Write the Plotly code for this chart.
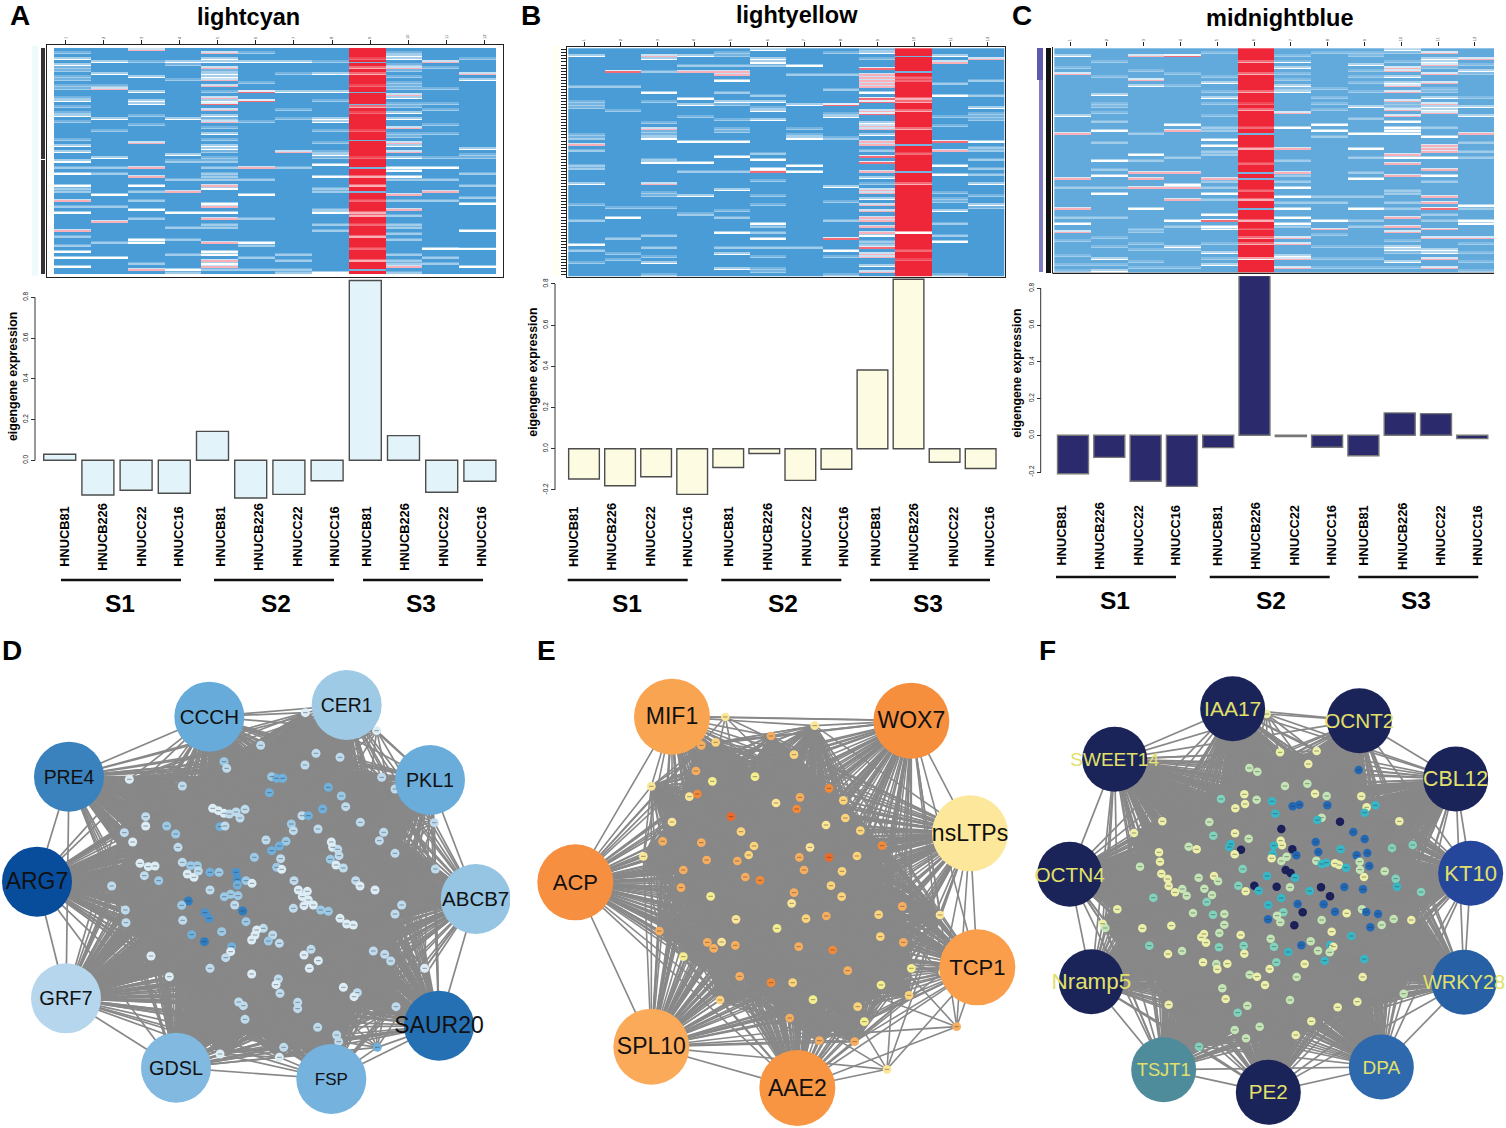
import plotly.graph_objects as go

W, H = 1506, 1128
FONT = "Liberation Sans"

# ---------- eigengene bar values ----------
samples = ["HNUCB81", "HNUCB226", "HNUCC22", "HNUCC16"] * 3
stages = ["S1", "S2", "S3"]
A_bars = [0.03, -0.17, -0.147, -0.162, 0.142, -0.185, -0.167, -0.10, 0.882, 0.121, -0.157, -0.103]
B_bars = [-0.147, -0.18, -0.136, -0.222, -0.091, -0.023, -0.154, -0.10, 0.382, 0.823, -0.066, -0.096]
C_bars = [-0.209, -0.12, -0.25, -0.278, -0.067, 0.869, -0.007, -0.065, -0.111, 0.122, 0.118, -0.018]

# ---------- heatmap rows (row numbers per column) ----------
N_ROWS = 75
A_hot = 9; B_hot = 10; C_hot = 6
A_pale = [[1,6,7,9,10,12,13,16,19,21,24,30,39,46,47,52,62,65],[12,27,39,41,52,64],[4,22,25,47,50,56,71],[5,10,37,43,59,63,68,74],
          [7,14,23,26,30,34,36,37,39,41,42,43,58,59,73],[1,11,24,43,56,65,69,73],[8,20,23,39,68,70,73,74],[4,17,27,31,34,36,46,47,53,58,60],
          [],[1,5,7,9,11,12,13,18,19,28,29,43,50,55,58,59,61,63,68,70,71,74],[6,13,18,20,25,28,36,43,50,69,71],[3,35,36,41,45,49,66]]
A_white = [[3,5,17,22,32,34,37,41,45,54,67,69,72],[4,8,23,36,48,69],[9,14,17,18,45,53,63,64],[4,23,35,54,73],
           [3,4,8,9,17,22,28,32,33,46,51,54,67,68,71],[4,48,64],[4,14],[8,14,23,24,35,38,42,54,74],
           [],[2,3,16,21,23,32,36,39,40,42],[39,66],[10,33,51,60,66,72]]
A_pink = [[50,60],[13,57],[0,31,39,42,73],[47],[1,6,10,12,16,20,24,45,52,56,64,70,72],[39],[34],[],
          [6,8,19,42,45,54,55,62,70],[6,15,26,31,34,48,53,72],[4,47],[8]]
A_rose = [[],[],[],[],[18],[14,17],[],[],[3,12,21,27,36,50,58,66],[],[],[]]
A_cold = [4,14,18,30,39,47,73]

B_pale = [[12,17,18,19,28,29,33,38,39,51,56,66,70],[12,20,52,62,67,69],[7,17,24,27,28,36,47,48,52,61,65,68,74],[5,22,40,54],
          [1,2,5,14,18,23,26,27,40,53,55,65],[5,15,19,34,43,48,51,58,60,65,68,72,73],[8,26,28,65],[1,8,13,21,29,50,56,68,74],
          [0,3,33,44,63,64],[],[11,22,25,47,49,50,57,61,74],[10,15,21,22,23,32,33,36,39,41,48,52]]
B_white = [[2,44,64],[55],[3,14,29,37,70],[2,16,18,30,37,48],[10,17,30,35,46,60,67,72],[0,3,4,17,20,23,36,39,57,62],[5,18,29,38,40],[22,45,66],
           [1,14,24,28,42,49,61,71],[60],[2,15,38,41,53,63],[19,30,44,51]]
B_pink = [[31],[],[2,26,44],[7],[7,8],[],[],[],[8,9,10,11,12,20,25,26,30,31,40,46,47,51,53,55,56,58,60,67,68,73],[16,17,20,26,44],[4,33],[3]]
B_rose = [[],[7],[],[],[],[40],[],[18,62],[6,16,17,21,35,37,65],[9,10,34,66,69],[30],[]]
B_cold = [2,7,31,40]

C_pale = [[6,46,56,64,69,72,74],[4,9,18,19,21,24,31,40,46,56,63,66,72],[7,28,37,60,61,65,67,71,73],[8,12,36,59,67,73],
          [1,9,14,18,22,26,27,34,35,44,46,50,65,70],[],[2,4,8,10,13,37,42,44,51,59],[1,13,16,18,20,29,49,51,62,66,70,73],
          [1,2,7,9,11,14,23,36,41,49,57,59,66,70,73],[1,4,18,19,47,48,51,53,64,68,73],[6,13,14,26,44,55,57],[5,8,16,31,34,36,53,65,68,71,74]]
C_white = [[2,22,58],[15,27,37,42,48,70,74],[12,35,53],[25,45,57,66],[11,16,30,32,48,55,59,60,68,72],[70],[4,6,12,14,26,46,49,53,56,58,69],[25,27,57],
           [5,19,28,33,43,53],[0,9,11,24,26,27,28,36,66,67,71],[3,4,16,19,20,29,36,42,67,68],[7,19,22,52,57,58]]
C_pink = [[8,28,43,53,61],[],[2,10,41,43,46],[27,41,46,50],[43],[4,8,14,20,33,50,57,63,65],[21,33,41,63,65,70,73],[60],
          [],[6,7,12,14,17,20,22,35,38,42,56,59,61],[1,5,8,11,18,21,32,33,34,40,49,51,60,63,70,73],[3,28,63]]
C_rose = [[],[],[],[2],[57],[18,26,38,47,60],[],[],[],[],[53],[]]
C_cold = [28,41,43,53]

# ---------- network D ----------
D_names = ["CCCH","CER1","PKL1","ABCB7","SAUR20","FSP","GDSL","GRF7","ARG7","PRE4"]
D_hub_x = [628,1040,1290,1427,1317,994,528,198,111,207]
D_hub_y = [230,195,420,777,1157,1317,1283,1075,725,410]
D_hub_col = ["#66abd9","#9ecae6","#6aaddb","#95c5e3","#2470b3","#75b2de","#82b9e0","#b5d6ec","#084c9c","#3a82bd"]
D_name_size = [20.5,19.4,19.7,20.5,23,17,19.8,20,23,19.4]
D_small = [(916,218,0),(1130,272,0),(782,316,1),(672,365,2),(680,385,1),(948,340,1),(1020,352,1),(915,375,1),(388,418,0),(547,438,1),
 (815,410,2),(830,415,3),(848,415,3),(808,458,3),(985,442,3),(1024,468,2),(1037,500,1),(1145,412,1),(1185,447,1),(1303,548,1),
 (638,505,0),(655,512,0),(672,520,0),(688,522,1),(708,516,1),(735,508,1),(720,534,1),(660,560,3),(675,558,1),(500,558,2),
 (527,582,2),(534,622,1),(437,530,1),(437,558,0),(373,578,1),(398,606,0),(968,507,3),(906,527,1),(925,527,3),(874,552,2),
 (880,572,1),(954,567,1),(1081,547,1),(1151,577,1),(1138,602,1),(858,604,2),(838,618,3),(798,600,1),(815,632,3),(994,606,0),
 (998,622,0),(1013,628,1),(1017,647,1),(991,658,2),(1008,675,0),(1030,684,1),(1185,640,1),(1306,687,1),(842,656,1),(830,682,2),
 (845,688,0),(763,652,2),(547,667,1),(420,670,0),(445,680,0),(465,678,0),(433,707,1),(476,722,2),(335,738,1),(572,677,2),
 (592,677,2),(562,702,0),(582,712,0),(595,693,1),(630,697,3),(657,697,2),(708,697,4),(712,718,4),(738,722,2),(756,730,0),
 (712,735,3),(630,750,1),(673,770,2),(692,763,2),(714,767,2),(882,722,1),(895,750,0),(922,754,0),(907,770,0),(925,780,0),
 (940,795,0),(912,797,0),(880,805,1),(962,810,2),(985,814,2),(1067,722,1),(1080,738,0),(1125,750,0),(1205,795,1),(1185,822,1),
 (1020,835,0),(1040,852,0),(1060,855,0),(565,783,5),(545,796,2),(548,841,1),(615,818,4),(627,835,4),(704,795,1),(728,813,5),
 (738,845,2),(376,810,1),(378,848,1),(665,875,2),(575,884,3),(613,905,5),(790,865,1),(770,870,0),(765,885,0),(755,900,0),
 (818,885,1),(805,903,2),(838,910,1),(695,920,3),(692,935,0),(677,953,1),(453,948,0),(630,985,1),(933,928,1),(912,945,0),
 (955,962,0),(928,985,0),(1120,933,1),(1154,943,1),(1172,963,1),(1274,985,0),(508,1010,0),(755,1002,0),(835,1017,1),(828,1034,0),
 (840,1060,1),(1030,1042,0),(1072,1058,1),(1062,1070,0),(893,1087,1),(893,1106,1),(716,1086,1),(730,1097,1),(1188,1100,1),(735,1138,1),
 (953,1162,1),(1010,1185,1),(1016,1205,1),(1132,1222,3),(851,1222,1),(838,1252,0),(660,1242,0)]
D_levels = ["#dcedf6","#bfdcee","#9ccae6","#6fb0dc","#4a93cf","#2f7dbf"]

# ---------- network E ----------
E_names = ["MIF1","WOX7","nsLTPs","TCP1","AAE2","SPL10","ACP"]
E_hub_x = [426,1144,1320,1342,802,364,136]
E_hub_y = [230,242,580,982,1344,1220,727]
E_hub_col = ["#f9a450","#f58f3e","#fde79a","#fb9e4c","#f79543","#fbaa5a","#f68f40"]
E_name_size = [23,23,23,22,23,23,22]
E_small = [(586,231,1),(854,257,1),(723,288,3),(514,316,3),(557,307,2),(792,344,2),(498,393,3),(547,424,0),(675,410,0),(364,439,1),
 (478,470,1),(502,462,4),(897,445,4),(810,472,3),(940,481,2),(738,489,1),(800,507,4),(603,530,5),(946,534,2),(888,555,1),
 (426,546,1),(991,572,2),(633,575,2),(398,604,3),(514,608,3),(1056,617,4),(672,618,2),(656,645,2),(840,622,1),(340,649,1),
 (530,660,3),(622,663,3),(808,652,3),(897,652,5),(981,648,2),(460,690,3),(822,690,3),(936,694,2),(646,711,3),(690,721,4),
 (903,737,2),(453,743,3),(792,758,3),(785,790,1),(542,769,0),(935,770,2),(1117,799,3),(1230,825,1),(1046,824,2),(618,838,1),
 (828,836,2),(889,828,3),(741,865,0),(388,873,3),(1051,890,2),(1120,907,3),(532,907,3),(551,925,3),(575,906,1),(616,916,3),
 (806,920,3),(908,930,4),(460,950,0),(953,992,3),(1144,985,0),(1238,997,1),(629,1009,3),(723,1028,4),(788,1028,2),(1053,1035,0),
 (1137,1066,2),(849,1079,0),(570,1080,2),(983,1100,2),(779,1134,3),(1003,1145,0),(1280,1160,3),(868,1202,3),(974,1205,3),(1071,1288,1)]
E_levels = ["#f5ef8e","#fbe596","#fbd47c","#f8ae5f","#f28a3a","#ee6a2a"]

# ---------- network F ----------
F_names = ["IAA17","OCNT2","CBL12","KT10","WRKY28","DPA","PE2","TSJT1","Nramp5","OCTN4","SWEET14"]
F_hub_x = [638,1018,1307,1352,1332,1084,745,431,214,149,284]
F_hub_y = [206,242,417,700,1027,1281,1357,1289,1025,703,358]
F_hub_col = ["#1b2458","#1b2458","#1b2458","#24479b","#2860a6","#2e68ad","#1b2458","#4e8c9c","#1b2458","#1b2458","#1b2458"]
F_name_size = [21,20.7,21.3,22,20,19,20.6,18.3,22.4,20.8,19]
F_small = [(740,222,0),(780,337,0),(890,333,0),(865,372,0),(688,384,1),(712,395,1),(1016,390,4),(795,438,1),(862,431,1),(603,477,2),
 (673,463,0),(675,492,0),(646,505,0),(710,479,1),(756,484,3),(885,461,0),(920,468,1),(1024,469,0),(818,499,4),(838,494,4),
 (922,496,4),(1066,496,3),(1040,502,0),(1034,518,3),(766,521,3),(905,533,1),(892,540,3),(960,545,5),(427,544,0),(568,546,1),
 (1138,544,0),(784,567,5),(1000,576,4),(342,579,0),(580,587,2),(645,580,0),(686,596,1),(1034,597,4),(1178,615,2),(506,620,1),
 (530,628,0),(632,612,3),(628,621,3),(782,602,0),(786,616,0),(762,617,3),(887,606,4),(962,628,3),(1116,624,2),(663,629,5),
 (817,628,5),(895,636,4),(417,637,0),(758,642,3),(755,655,0),(644,643,0),(829,646,4),(800,650,1),(784,663,1),(1010,646,4),
 (1042,639,4),(1019,665,1),(889,662,1),(919,668,3),(905,672,3),(945,670,0),(957,675,0),(420,665,0),(978,683,3),(1048,678,4),
 (1020,689,1),(360,680,1),(668,687,2),(797,690,5),(812,699,5),(1094,694,1),(424,701,0),(582,708,0),(536,713,1),(594,724,1),
 (443,717,0),(741,708,3),(825,713,3),(1032,711,0),(1127,716,2),(1131,740,3),(446,738,0),(655,737,2),(703,737,5),(770,740,5),
 (716,752,3),(677,754,0),(810,742,1),(903,742,5),(973,741,4),(1029,748,4),(869,753,3),(487,747,1),(465,757,0),(553,746,1),
 (500,767,1),(576,765,1),(1203,756,2),(930,769,5),(400,773,2),(784,774,3),(560,786,2),(833,792,4),(911,793,4),(745,795,3),
 (292,808,0),(848,817,5),(945,815,4),(980,820,0),(1026,808,1),(1039,816,4),(1074,822,4),(519,819,1),(579,824,2),(613,822,1),
 (790,817,2),(771,827,1),(744,838,4),(781,847,1),(905,840,1),(1121,837,1),(1174,840,0),(248,851,0),(256,864,1),(367,865,0),
 (454,857,0),(613,854,1),(823,856,5),(1085,855,1),(1051,862,4),(935,875,0),(598,879,1),(662,885,0),(552,882,0),(544,892,0),
 (558,908,0),(752,896,1),(994,888,3),(872,904,1),(844,916,4),(762,920,2),(597,922,2),(671,917,2),(931,916,3),(940,920,0),
 (388,917,2),(486,933,1),(444,942,0),(805,936,3),(894,932,1),(929,937,1),(673,941,0),(1033,957,3),(914,962,3),(769,967,2),
 (549,967,0),(622,971,0),(589,972,1),(592,988,0),(854,972,0),(749,987,0),(689,1004,1),(711,1010,0),(830,1011,1),(1028,1011,0),
 (735,1035,0),(607,1045,1),(1151,1061,1),(617,1077,0),(810,1080,1),(1012,1085,0),(446,1094,0),(682,1097,1),(953,1102,0),(653,1118,2),
 (874,1144,0),(719,1160,1),(644,1170,1),(827,1185,0),(678,1195,1),(537,1220,2)]
F_levels = ["#edf0a8","#c4e5b5","#80d3bd","#36b8c8","#2268b4","#1a1f5c"]

fig = go.Figure()
layout = dict(width=W, height=H, margin=dict(l=0, r=0, t=0, b=0), paper_bgcolor="white",
              plot_bgcolor="rgba(0,0,0,0)", showlegend=False)
shapes, annots = [], []
ax_n = [0]


def xd(a, b):
    return [a / W, b / W]


def yd(a, b):
    return [1 - b / H, 1 - a / H]


def px(x):
    return x / W


def py(y):
    return 1 - y / H


def new_axes():
    ax_n[0] += 1
    n = ax_n[0]
    s = "" if n == 1 else str(n)
    return f"xaxis{s}", f"yaxis{s}", f"x{s}", f"y{s}"


def text(t, x, y, size, bold=True, angle=0, xanchor="center", yanchor="middle", color="black"):
    annots.append(dict(text=f"<b>{t}</b>" if bold else t, x=px(x), y=py(y), xref="paper", yref="paper", showarrow=False,
                       font=dict(family=FONT, size=size, color=color), textangle=angle, xanchor=xanchor, yanchor=yanchor))


def rect(x0, y0, x1, y1, color):
    shapes.append(dict(type="rect", xref="paper", yref="paper", x0=px(x0), x1=px(x1), y0=py(y0), y1=py(y1),
                       fillcolor=color, line=dict(width=0), layer="below"))


def pline(x0, y0, x1, y1, color="#111111", width=2.4):
    shapes.append(dict(type="line", xref="paper", yref="paper", x0=px(x0), x1=px(x1), y0=py(y0), y1=py(y1),
                       line=dict(color=color, width=width)))


SCALE = [[0, "#4a9cd6"], [0.5, "#ffffff"], [0.7, "#f9b0b8"], [1, "#ee1c2e"]]
FINE = 2


def heatmap(pale, white, pink, rose, cold, hot, base, frame, cells, ticks, full_frame, row_tick):
    fx0, fy0, fx1, fy1 = frame
    cx0, cy0, cx1, cy1 = cells
    t0, tstep = ticks
    rows_n = N_ROWS * FINE
    col_base = [0.98 if c == hot - 1 else base for c in range(12)]
    z = [list(col_base) for _ in range(rows_n)]
    for lev, src in ((0.24, pale), (0.5, white), (0.7, pink), (0.84, rose)):
        for c, rows in enumerate(src):
            for r in rows:
                z[FINE * r + 1][c] = lev
                if z[FINE * r][c] == col_base[c]:
                    z[FINE * r][c] = (col_base[c] + lev) / 2
    for r in cold:
        z[FINE * r + 1][hot - 1] = 0.12
    cw = (cx1 - cx0) / 12
    rh = (cy1 - cy0) / rows_n
    xa, ya, xr, yr = new_axes()
    layout[xa] = dict(domain=xd(fx0, fx1), range=[(fx0 - cx0) / cw + 0.5, (fx1 - cx0) / cw + 0.5], anchor=yr, side="top",
                      tickvals=[(t0 + tstep * i - cx0) / cw + 0.5 for i in range(12)], ticktext=[str(i + 1) for i in range(12)],
                      ticks="outside", ticklen=4, tickwidth=0.8, tickcolor="#222", tickangle=-90,
                      tickfont=dict(size=4, family=FONT, color="#444"), showgrid=False, zeroline=False,
                      showline=full_frame, mirror=full_frame, linecolor="#222", linewidth=1.3)
    layout[ya] = dict(domain=yd(fy0, fy1), range=[(fy1 - cy0) / rh - 0.5, (fy0 - cy0) / rh - 0.5], anchor=xr,
                      tickvals=[FINE * i + 0.5 for i in range(N_ROWS)], showticklabels=False, ticks="outside", ticklen=row_tick[0],
                      tickwidth=row_tick[1], tickcolor=row_tick[2], showgrid=False, zeroline=False,
                      showline=True, mirror=full_frame, linecolor="#222", linewidth=1.3)
    fig.add_trace(go.Heatmap(z=z, x=list(range(1, 13)), y=list(range(rows_n)), colorscale=SCALE, zmin=0, zmax=1,
                             showscale=False, xaxis=xr, yaxis=yr, hoverinfo="skip"))
    if not full_frame:
        pline(fx0, fy1, fx1, fy1, "#222", 1.3)


def bars(vals, fill, edge, x_first, x_step, bw, zero_y, unit, axis_x, ticks):
    y_top, y_bot = 276, 510
    left, right = x_first - x_step, x_first + 11.5 * x_step
    xa, ya, xr, yr = new_axes()
    layout[xa] = dict(domain=xd(left, right), range=[0, 12.5], visible=False, anchor=yr)
    layout[ya] = dict(domain=yd(y_top, y_bot), range=[(zero_y - y_bot) / unit, (zero_y - y_top) / unit], anchor="free",
                      position=px(axis_x), tickvals=ticks, ticktext=[f"{t:.1f}" for t in ticks], ticks="outside", ticklen=4,
                      tickwidth=1, tickcolor="#333", tickangle=-90, tickfont=dict(size=6.5, family=FONT, color="#111"),
                      showgrid=False, zeroline=False, showline=False)
    shapes.append(dict(type="line", xref="paper", yref=yr, x0=px(axis_x), x1=px(axis_x), y0=min(ticks), y1=max(ticks),
                       line=dict(color="#333", width=1)))
    fig.add_trace(go.Bar(x=list(range(1, 13)), y=vals, width=bw / x_step, marker=dict(color=fill, line=dict(color=edge, width=1.4)),
                         xaxis=xr, yaxis=yr, hovertext=samples, hoverinfo="text+y"))


def labels(xs, mid, line_y, spans, s_xs, s_y, ytitle):
    for x, s in zip(xs, samples):
        text(s, x, mid, 12.8, angle=-90)
    for (a, b), sx, st in zip(spans, s_xs, stages):
        pline(a, line_y, b, line_y)
        text(st, sx, s_y, 24.5)
    text("eigengene expression", ytitle[0], ytitle[1], 12.3, angle=-90)


def network(names, hx, hy, hcol, name_size, small, levels, box, size, hub_size, font_col, core, ring, edge_w):
    bx0, by0, bx1, by1 = box
    sx = [s[0] for s in small]
    sy = [s[1] for s in small]
    xa, ya, xr, yr = new_axes()
    layout[xa] = dict(domain=xd(bx0, bx1), range=[0, (bx1 - bx0) * 3], visible=False, anchor=yr)
    layout[ya] = dict(domain=yd(by0, by1), range=[(by1 - by0) * 3, 0], visible=False, anchor=xr)
    ex, ey = [], []
    n = len(names)
    for i in range(n):
        for step in ring:
            j = (i + step) % n
            ex += [hx[i], hx[j], None]
            ey += [hy[i], hy[j], None]
        for a, b in zip(sx, sy):
            ex += [hx[i], a, None]
            ey += [hy[i], b, None]
    cx, cy, R = core
    inner = [(a, b) for a, b in zip(sx, sy) if (a - cx) ** 2 + (b - cy) ** 2 < R ** 2]
    for i, p in enumerate(inner):
        for q in inner[i + 1:]:
            ex += [p[0], q[0], None]
            ey += [p[1], q[1], None]
    fig.add_trace(go.Scatter(x=ex, y=ey, mode="lines", line=dict(color="#888888", width=edge_w), xaxis=xr, yaxis=yr, hoverinfo="skip"))
    fig.add_trace(go.Scatter(x=sx, y=sy, mode="markers", xaxis=xr, yaxis=yr, hoverinfo="skip",
                             marker=dict(size=size, color=[levels[s[2]] for s in small], line=dict(width=0))))
    fig.add_trace(go.Scatter(x=sx, y=sy, mode="markers", xaxis=xr, yaxis=yr, hoverinfo="skip",
                             marker=dict(size=3.2, symbol="line-ew", color="#333", line=dict(width=0.45, color="#333"))))
    fig.add_trace(go.Scatter(x=hx, y=hy, mode="markers", xaxis=xr, yaxis=yr, hoverinfo="skip",
                             marker=dict(size=hub_size, color=hcol, line=dict(width=0))))
    fig.add_trace(go.Scatter(x=hx, y=[v + 6 for v in hy], mode="text", text=names, textposition="middle center", xaxis=xr, yaxis=yr,
                             textfont=dict(family=FONT, size=name_size, color=font_col), hoverinfo="text"))


# Panel A
heatmap(A_pale, A_white, A_pink, A_rose, A_cold, A_hot, 0.0, (46.5, 45, 503, 277), (54, 48, 496, 274), (65.3, 38.1), True, (4, 3.1, "#333333"))
rect(32, 46, 38, 276, "#eefafc")
bars(A_bars, "#e2f4f9", "#4d4d4d", 59.7, 38.2, 32, 460.3, 203.8, 35, [0, 0.2, 0.4, 0.6, 0.8])
labels([65, 103, 142, 179, 221, 259, 298, 335, 367, 405, 444, 482], 536.8, 580,
       [(61, 181), (214, 334), (363, 483)], [120, 276, 421], 603, (13, 377))
text("lightcyan", 248, 17, 23.5)
text("A", 20, 15, 28)

# Panel B
heatmap(B_pale, B_white, B_pink, B_rose, B_cold, B_hot, 0.0, (566.7, 47.3, 1005.3, 276.7), (568.3, 48.3, 1004, 276.3), (584, 36.67), True, (4.5, 1.4, "#222222"))
rect(552, 46, 559, 276, "#fffff2")
bars(B_bars, "#fdfce2", "#4d4d4d", 584, 36.06, 30.7, 448.7, 205.9, 555, [-0.2, 0, 0.2, 0.4, 0.6, 0.8])
labels([573.3, 611.7, 650.7, 687.3, 729, 767.7, 806.7, 843.3, 875.7, 914, 953.3, 990], 536.8, 580,
       [(567.7, 687.7), (721.3, 841.3), (870, 990)], [627.3, 782.7, 927.7], 603, (532.7, 372))
text("lightyellow", 796.7, 15, 23.5)
text("B", 531, 15, 28)

# Panel C
heatmap(C_pale, C_white, C_pink, C_rose, C_cold, C_hot, 0.07, (1052.5, 47, 1494, 273.3), (1054.3, 48.3, 1494, 272.7), (1070, 36.8), False, (5, 3.1, "#111111"))
rect(1037, 48, 1043, 80, "#5d59ad")
rect(1039, 80, 1043, 272, "#7f7cc0")
bars(C_bars, "#2b2a6c", "#777777", 1073, 36.3, 31, 435.3, 183.75, 1040.7, [-0.2, 0, 0.2, 0.4, 0.6, 0.8])
labels([1061.7, 1100, 1138.7, 1175.7, 1217.3, 1256, 1294.7, 1331.7, 1364, 1402.3, 1441, 1478], 535.8, 577,
       [(1056, 1176), (1209.7, 1329.7), (1358.3, 1478.3)], [1115, 1271, 1415.7], 600, (1016.7, 373))
text("midnightblue", 1280, 18, 23.5)
text("C", 1022, 15, 28)

# Networks
network(D_names, D_hub_x, D_hub_y, D_hub_col, D_name_size, D_small, D_levels, (0, 640, 510, 1128), 9, 70, "#111111", (770, 740, 560), (1, 2), 1.7)
network(E_names, E_hub_x, E_hub_y, E_hub_col, E_name_size, E_small, E_levels, (530, 640, 1020, 1128), 8.7, 76, "#111111", (740, 760, 520), (1, 2), 1.6)
network(F_names, F_hub_x, F_hub_y, F_hub_col, F_name_size, F_small, F_levels, (1020, 640, 1506, 1128), 8.5, 65, "#e2e06a", (740, 790, 560), (1, 2), 1.7)
text("D", 12, 650, 28)
text("E", 546, 650, 28)
text("F", 1047, 650, 28)

layout["shapes"] = shapes
layout["annotations"] = annots
fig.update_layout(**layout)
fig.write_html("out.html", config={"displayModeBar": False}, post_script="document.body.style.margin='0';")
